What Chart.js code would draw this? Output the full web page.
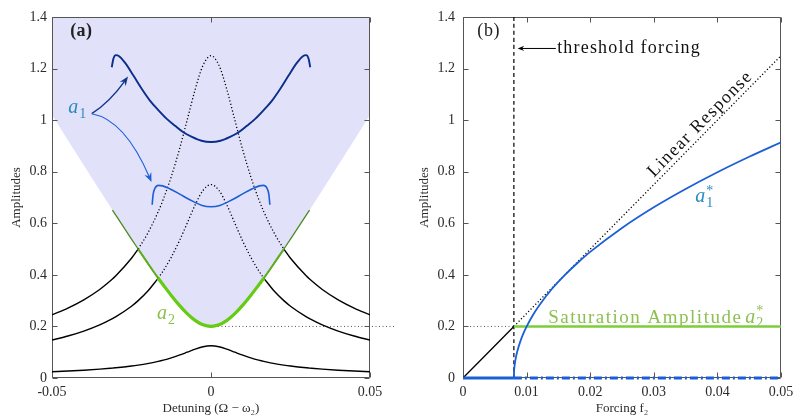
<!DOCTYPE html>
<html>
<head>
<meta charset="utf-8">
<script src="https://cdn.jsdelivr.net/npm/chart.js@4.4.1/dist/chart.umd.min.js"></script>
<style>
  html, body { margin: 0; padding: 0; background: #fff; }
  #wrap { position: relative; width: 795px; height: 419px; }
  #detuneBox { position: absolute; left: 0; top: 0; }
  #forceBox { position: absolute; left: 400px; top: 0; }
</style>
</head>
<body>
<div id="wrap">
  <div id="detuneBox"><canvas id="detuneChart" width="400" height="419"></canvas></div>
  <div id="forceBox"><canvas id="forceChart" width="395" height="419"></canvas></div>
</div>
<script>
// ---- panel (a): detuning sweep ----
var detuning = [-0.05, -0.045, -0.04, -0.035, -0.031, -0.03, -0.025, -0.0229, -0.02, -0.0166, -0.015, -0.0125, -0.01, -0.0075, -0.005, -0.0025, 0,
  0.0025, 0.005, 0.0075, 0.01, 0.0125, 0.015, 0.0166, 0.02, 0.0229, 0.025, 0.03, 0.031, 0.035, 0.04, 0.045, 0.05];
var a2Amp = [1.0198, 0.922, 0.8246, 0.728, 0.6515, 0.6325, 0.5385, 0.5, 0.4472, 0.387, 0.3606, 0.3202, 0.2828, 0.25, 0.2236, 0.2062, 0.2,
  0.2062, 0.2236, 0.25, 0.2828, 0.3202, 0.3606, 0.387, 0.4472, 0.5, 0.5385, 0.6325, 0.6515, 0.728, 0.8246, 0.922, 1.0198];
var lowResp = [0.0245, 0.0271, 0.0303, 0.0343, 0.0384, 0.0395, 0.0464, 0.05, 0.0559, 0.0645, 0.0693, 0.0781, 0.0884, 0.1, 0.1118, 0.1213, 0.125,
  0.1213, 0.1118, 0.1, 0.0884, 0.0781, 0.0693, 0.0645, 0.0559, 0.05, 0.0464, 0.0395, 0.0384, 0.0343, 0.0303, 0.0271, 0.0245];
var midResp = [0.1471, 0.1627, 0.1819, 0.206, 0.2303, 0.2372, 0.2785, 0.3001, 0.3354, 0.387, 0.416, 0.4685, 0.5303, 0.6, 0.6708, 0.7276, 0.75,
  0.7276, 0.6708, 0.6, 0.5303, 0.4685, 0.416, 0.387, 0.3354, 0.3001, 0.2785, 0.2372, 0.2303, 0.206, 0.1819, 0.1627, 0.1471];
var highResp = [0.2451, 0.2712, 0.3032, 0.3434, 0.3838, 0.3953, 0.4642, 0.5, 0.559, 0.645, 0.6934, 0.7809, 0.8839, 1.0, 1.118, 1.2127, 1.25,
  1.2127, 1.118, 1.0, 0.8839, 0.7809, 0.6934, 0.645, 0.559, 0.5, 0.4642, 0.3953, 0.3838, 0.3434, 0.3032, 0.2712, 0.2451];

// a1 mode sketches drawn inside panel (a)
var shapeUpX = [-0.0312, -0.0307, -0.0299, -0.0289, -0.027, -0.0244, -0.0218, -0.0192, -0.0165, -0.0139, -0.0113, -0.0087, -0.006, -0.003, 0,
  0.003, 0.006, 0.0087, 0.0113, 0.0139, 0.0165, 0.0192, 0.0218, 0.0244, 0.027, 0.0289, 0.0299, 0.0307, 0.0312];
var shapeUpY = [1.205, 1.238, 1.252, 1.248, 1.222, 1.173, 1.122, 1.076, 1.038, 1.005, 0.978, 0.953, 0.935, 0.92, 0.915,
  0.92, 0.935, 0.953, 0.978, 1.005, 1.038, 1.076, 1.122, 1.173, 1.222, 1.248, 1.252, 1.238, 1.205];
var shapeLowX = [-0.0185, -0.0182, -0.0176, -0.0165, -0.0152, -0.013, -0.0105, -0.008, -0.0055, -0.0028, 0,
  0.0028, 0.0055, 0.008, 0.0105, 0.013, 0.0152, 0.0165, 0.0176, 0.0182, 0.0185];
var shapeLowY = [0.672, 0.712, 0.736, 0.747, 0.745, 0.734, 0.718, 0.7, 0.684, 0.669, 0.664,
  0.669, 0.684, 0.7, 0.718, 0.734, 0.745, 0.747, 0.736, 0.712, 0.672];

// ---- panel (b): forcing sweep ----
var forcing = [0.008, 0.00801, 0.0081, 0.0083, 0.0085, 0.009, 0.0095, 0.01, 0.011, 0.012, 0.014, 0.016, 0.018, 0.02, 0.025, 0.03, 0.035, 0.04, 0.045, 0.05];
var a1Star = [0, 0.0141, 0.0446, 0.0773, 0.0997, 0.141, 0.173, 0.1995, 0.244, 0.282, 0.346, 0.399, 0.446, 0.489, 0.582, 0.662, 0.733, 0.798, 0.858, 0.914];
var linForcing = [0, 0.008, 0.05];
var linAmp = [0, 0.2, 1.25];
var thresholdF = 0.008;
var saturationAmp = 0.2;
var forcingMax = 0.05;

var detuneTicks = [-0.05, 0, 0.05];
var forceTicks = [0, 0.01, 0.02, 0.03, 0.04, 0.05];
var ampTicks = [0, 0.2, 0.4, 0.6, 0.8, 1, 1.2, 1.4];

var SERIF = "'Liberation Serif', 'DejaVu Serif', serif";
var AXIS_GREY = "#2b2b2b";

function pts(xs, ys) {
  return xs.map(function (x, i) { return { x: x, y: ys[i] }; });
}

// split a curve into runs of consecutive points passing keep(i)
function runs(xs, ys, keep) {
  var out = [], cur = [];
  xs.forEach(function (x, i) {
    if (keep(i)) {
      cur.push({ x: x, y: ys[i] });
    } else if (cur.length) {
      out.push(cur);
      cur = [];
    }
  });
  if (cur.length) out.push(cur);
  return out;
}

function line(data, color, width, extra) {
  var ds = {
    data: data,
    borderColor: color,
    borderWidth: width,
    pointRadius: 0,
    fill: false,
    cubicInterpolationMode: "monotone",
    order: 5,
  };
  for (var k in extra) ds[k] = extra[k];
  return ds;
}

var DOTS = [1.2, 2.2];

// frame + inward ticks on all four sides (matlab look)
var frameTicks = {
  id: "frameTicks",
  beforeDatasetsDraw: function (chart) {
    var c = chart.ctx;
    var a = chart.chartArea;
    var xs = chart.scales.x;
    var ys = chart.scales.y;
    var L = Math.round(a.left) + 0.5, R = Math.round(a.right) - 0.5;
    var T = Math.round(a.top) + 0.5, B = Math.round(a.bottom) - 0.5;
    c.save();
    c.strokeStyle = "#555";
    c.lineWidth = 1;
    c.beginPath();
    c.rect(L, T, R - L, B - T);
    xs.ticks.forEach(function (t) {
      var px = Math.round(xs.getPixelForValue(t.value)) + 0.5;
      c.moveTo(px, B); c.lineTo(px, B - 5);
      c.moveTo(px, T); c.lineTo(px, T + 5);
    });
    ys.ticks.forEach(function (t) {
      var py = Math.round(ys.getPixelForValue(t.value)) + 0.5;
      c.moveTo(L, py); c.lineTo(L + 5, py);
      c.moveTo(R, py); c.lineTo(R - 5, py);
    });
    c.stroke();
    c.restore();
  },
};

function arrowHead(c, x, y, ang, len, color) {
  c.fillStyle = color;
  c.beginPath();
  c.moveTo(x, y);
  c.lineTo(x - len * Math.cos(ang - 0.38), y - len * Math.sin(ang - 0.38));
  c.lineTo(x - len * 0.62 * Math.cos(ang), y - len * 0.62 * Math.sin(ang));
  c.lineTo(x - len * Math.cos(ang + 0.38), y - len * Math.sin(ang + 0.38));
  c.closePath();
  c.fill();
}

function curvedArrow(chart, p0, cp, p1, color, width, head) {
  var c = chart.ctx, xs = chart.scales.x, ys = chart.scales.y;
  var x0 = xs.getPixelForValue(p0[0]), y0 = ys.getPixelForValue(p0[1]);
  var cx = xs.getPixelForValue(cp[0]), cy = ys.getPixelForValue(cp[1]);
  var x1 = xs.getPixelForValue(p1[0]), y1 = ys.getPixelForValue(p1[1]);
  var ang = Math.atan2(y1 - cy, x1 - cx);
  c.save();
  c.strokeStyle = color;
  c.lineWidth = width;
  c.beginPath();
  c.moveTo(x0, y0);
  c.quadraticCurveTo(cx, cy, x1 - Math.cos(ang) * head * 0.5, y1 - Math.sin(ang) * head * 0.5);
  c.stroke();
  arrowHead(c, x1, y1, ang, head, color);
  c.restore();
}

// italic variable with optional subscript / superscript
function mathVar(c, x, y, sub, sup, size, color) {
  c.save();
  c.fillStyle = color;
  c.textBaseline = "alphabetic";
  c.textAlign = "left";
  c.font = "italic " + size + "px " + SERIF;
  c.fillText("a", x, y);
  var w = c.measureText("a").width + 1;
  c.font = Math.round(size * 0.68) + "px " + SERIF;
  if (sub) c.fillText(sub, x + w, y + size * 0.22);
  if (sup) c.fillText(sup, x + w, y - size * 0.38);
  c.restore();
}

function label(c, text, x, y, font, color, spacing, align, base) {
  c.save();
  c.font = font;
  c.fillStyle = color;
  c.textAlign = align || "left";
  c.textBaseline = base || "alphabetic";
  c.letterSpacing = (spacing || 0) + "px";
  c.fillText(text, x, y);
  var w = c.measureText(text).width;
  c.restore();
  return w;
}

var detuneNotes = {
  id: "detuneNotes",
  afterDatasetsDraw: function (chart) {
    var c = chart.ctx, xs = chart.scales.x, ys = chart.scales.y;
    var X = function (v) { return xs.getPixelForValue(v); };
    var Y = function (v) { return ys.getPixelForValue(v); };
    label(c, "(a)", X(-0.0443), Y(1.343), "bold 18px " + SERIF, "#222", 0.5, "left", "middle");
    mathVar(c, X(-0.0449), Y(1.026), "1", null, 20, "#2b8abf");
    mathVar(c, X(-0.017), Y(0.2275), "2", null, 20, "#8dbf4e");
    curvedArrow(chart, [-0.0375, 1.025], [-0.0318, 1.07], [-0.0261, 1.169], "#123789", 1.4, 10);
    curvedArrow(chart, [-0.0375, 1.025], [-0.0271, 1.002], [-0.0187, 0.76], "#1f5fd8", 1.1, 10);
  },
};

var forceNotes = {
  id: "forceNotes",
  afterDatasetsDraw: function (chart) {
    var c = chart.ctx, xs = chart.scales.x, ys = chart.scales.y;
    var X = function (v) { return xs.getPixelForValue(v); };
    var Y = function (v) { return ys.getPixelForValue(v); };
    label(c, "(b)", X(0.00225), Y(1.343), "18px " + SERIF, "#222", 0.6, "left", "middle");
    label(c, "threshold forcing", X(0.0148), Y(1.278), "18px " + SERIF, "#111", 1.2, "left", "middle");
    // arrow pointing at the threshold line
    c.save();
    c.strokeStyle = "#000";
    c.lineWidth = 1;
    c.beginPath();
    c.moveTo(X(0.0146), Y(1.278));
    c.lineTo(X(0.0086) + 4, Y(1.278));
    c.stroke();
    arrowHead(c, X(0.0086), Y(1.278), Math.PI, 7, "#000");
    c.restore();
    // label along the linear response line
    var ang = Math.atan2(Y(linAmp[2]) - Y(linAmp[0]), X(linForcing[2]) - X(linForcing[0]));
    c.save();
    c.translate(X(0.0373), Y(0.985));
    c.rotate(ang);
    label(c, "Linear Response", 0, 0, "18px " + SERIF, "#111", 1.4, "center", "middle");
    c.restore();
    mathVar(c, X(0.0365), Y(0.681), "1", "*", 20, "#2b8abf");
    var w = label(c, "Saturation Amplitude", X(0.0134), Y(0.214), "19px " + SERIF, "#8cc152", 1.5, "left", "alphabetic");
    mathVar(c, X(0.0134) + w + 3, Y(0.214), "2", "*", 20, "#8cc152");
  },
};

function ampAxis(width, titlePad, labelPad) {
  return {
    type: "linear",
    min: 0,
    max: 1.4,
    afterBuildTicks: function (s) { s.ticks = ampTicks.map(function (v) { return { value: v }; }); },
    afterFit: function (s) {
      s.width = width;
      s.paddingTop = 0;
      s.paddingBottom = 0;
    },
    grid: { display: false, drawTicks: false },
    border: { display: false },
    ticks: {
      color: AXIS_GREY,
      padding: labelPad,
      font: { family: SERIF, size: 14 },
      callback: function (v) { return String(v); },
    },
    title: {
      display: true,
      text: "Amplitudes",
      color: AXIS_GREY,
      font: { family: SERIF, size: 13 },
      padding: { top: titlePad, bottom: 0 },
    },
  };
}

function xAxis(min, max, tickList, titleText) {
  return {
    type: "linear",
    min: min,
    max: max,
    afterBuildTicks: function (s) { s.ticks = tickList.map(function (v) { return { value: v }; }); },
    afterFit: function (s) {
      s.height = 41;
      s.paddingLeft = 0;
      s.paddingRight = 0;
    },
    grid: { display: false, drawTicks: false },
    border: { display: false },
    ticks: {
      color: AXIS_GREY,
      padding: 6,
      maxRotation: 0,
      font: { family: SERIF, size: 14 },
      callback: function (v) { return String(v); },
    },
    title: {
      display: true,
      text: titleText,
      color: AXIS_GREY,
      font: { family: SERIF, size: 13 },
      padding: { top: 0, bottom: 3 },
    },
  };
}

var baseOpts = {
  responsive: false,
  animation: false,
  events: [],
  plugins: {
    legend: { display: false },
    tooltip: { enabled: false },
    filler: { drawTime: "beforeDraw" },
  },
};

// ---------- panel (a) ----------
var detuneSets = [];
detuneSets.push(line(pts(detuning, a2Amp), "rgba(0,0,0,0)", 0, {
  fill: "end", backgroundColor: "#e1e1fa", order: 20,
}));
[lowResp, midResp, highResp].forEach(function (resp) {
  runs(detuning, resp, function (i) { return resp[i] <= a2Amp[i] + 1e-6; }).forEach(function (r) {
    detuneSets.push(line(r, "#000", 1.4, { order: 6 }));
  });
  runs(detuning, resp, function (i) { return resp[i] >= a2Amp[i] - 1e-6; }).forEach(function (r) {
    detuneSets.push(line(r, "#000", 1.3, { borderDash: DOTS, order: 6 }));
  });
});
detuneSets.push(line(pts([0, 0.058], [saturationAmp, saturationAmp]), "#555", 1, {
  borderDash: [1, 2.5], clip: false, order: 7,
}));
runs(detuning, a2Amp, function (i) { return Math.abs(detuning[i]) <= 0.031; }).forEach(function (r) {
  detuneSets.push(line(r, "#4f8a22", 1.3, { order: 4 }));
});
runs(detuning, a2Amp, function (i) { return Math.abs(detuning[i]) <= 0.0229; }).forEach(function (r) {
  detuneSets.push(line(r, "#5fae1e", 2, { order: 3 }));
});
runs(detuning, a2Amp, function (i) { return Math.abs(detuning[i]) <= 0.0166; }).forEach(function (r) {
  detuneSets.push(line(r, "#66cc11", 3.2, { order: 2 }));
});
detuneSets.push(line(pts(shapeUpX, shapeUpY), "#0b2e8a", 1.9, { order: 1 }));
detuneSets.push(line(pts(shapeLowX, shapeLowY), "#1c5ed6", 1.6, { order: 1 }));

new Chart(document.getElementById("detuneChart"), {
  type: "line",
  data: { datasets: detuneSets },
  options: Object.assign({}, baseOpts, {
    layout: { padding: { top: 17, right: 30, left: 0, bottom: 0 } },
    scales: {
      x: xAxis(-0.05, 0.05, detuneTicks, "Detuning (\u03A9 \u2212 \u03C9\u2082)"),
      y: ampAxis(52, 9, 5),
    },
  }),
  plugins: [frameTicks, detuneNotes],
});

// ---------- panel (b) ----------
var forceSets = [];
forceSets.push(line(pts(linForcing.slice(0, 2), linAmp.slice(0, 2)), "#000", 1.3, { order: 6 }));
forceSets.push(line(pts(linForcing.slice(1), linAmp.slice(1)), "#000", 1.3, { borderDash: DOTS, order: 6 }));
forceSets.push(line(pts([0, thresholdF], [saturationAmp, saturationAmp]), "#555", 1, { borderDash: [1, 2.5], order: 7 }));
forceSets.push(line(pts([thresholdF, thresholdF], [0, 1.4]), "#000", 1.2, { borderDash: [4, 3], order: 6 }));
forceSets.push(line(pts([thresholdF, forcingMax], [saturationAmp, saturationAmp]), "#7dcc3a", 2.4, { order: 4 }));
forceSets.push(line(pts(forcing, a1Star), "#1a5fd6", 1.8, { order: 2 }));
forceSets.push(line(pts([0, thresholdF], [0, 0]), "#1a5fd6", 3, { order: 1, clip: 4 }));
forceSets.push(line(pts([thresholdF, forcingMax], [0, 0]), "#1a5fd6", 3, { borderDash: [8, 3, 2, 3], order: 1, clip: 4 }));

new Chart(document.getElementById("forceChart"), {
  type: "line",
  data: { datasets: forceSets },
  options: Object.assign({}, baseOpts, {
    layout: { padding: { top: 17, right: 14, left: 0, bottom: 0 } },
    scales: {
      x: xAxis(0, 0.05, forceTicks, "Forcing f\u2082"),
      y: ampAxis(63, 17, 8),
    },
  }),
  plugins: [frameTicks, forceNotes],
});
</script>
</body>
</html>
